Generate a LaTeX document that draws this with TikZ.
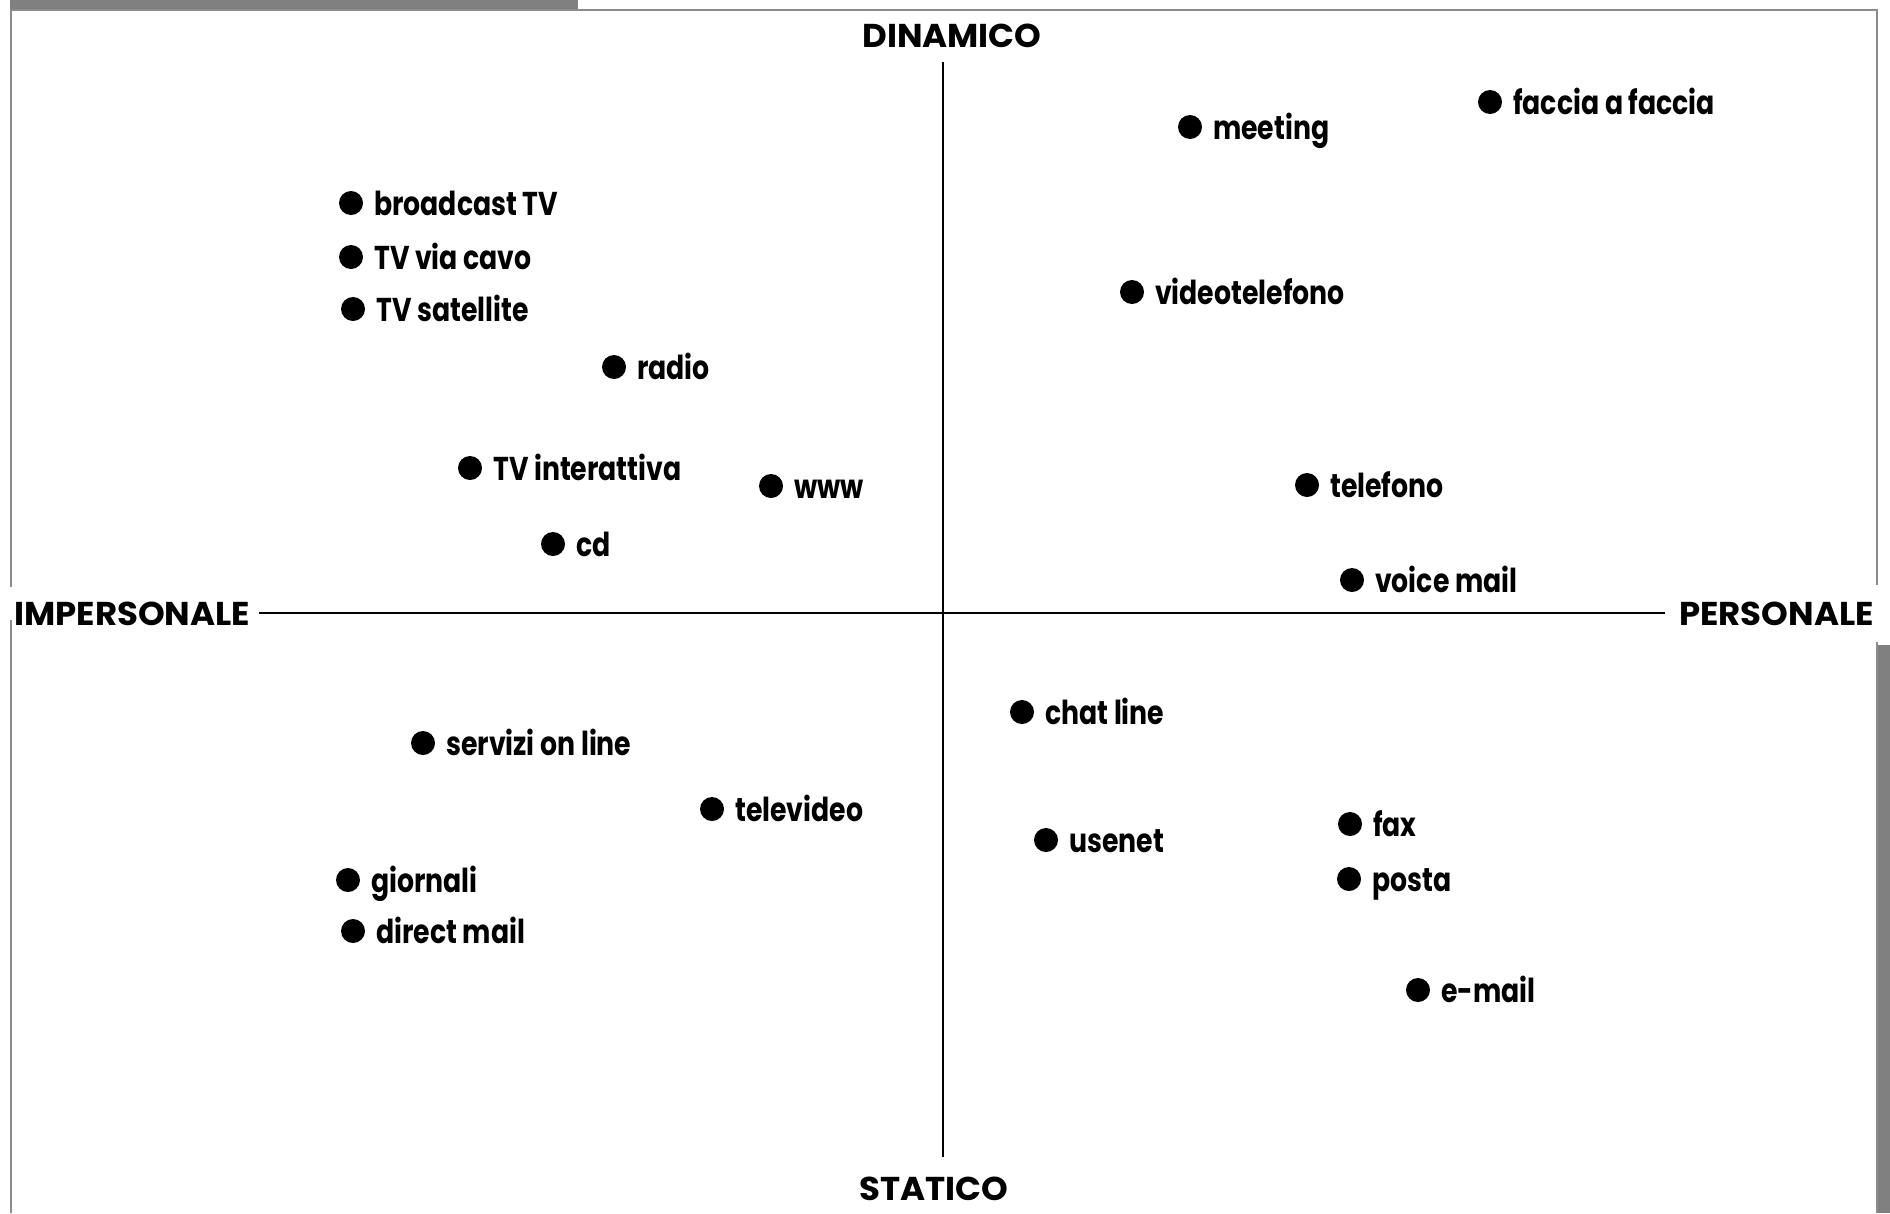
\documentclass[tikz,border=0pt]{standalone}
\usepackage{fontspec}
\setmainfont{Poppins}
\newfontfamily\itemfont{Poppins}[FakeStretch=0.81]
\newfontfamily\axisfont{Poppins}[FakeStretch=1.03]
\definecolor{framegray}{HTML}{8C8C8C}
\definecolor{bargray}{HTML}{808080}
\tikzset{
  dotmark/.style={circle, fill=black, inner sep=0pt, minimum size=24pt},
  itemlbl/.style={anchor=base west, inner sep=0pt, font=\itemfont\bfseries\fontsize{33}{33}\selectfont},
  axislbl/.style={inner sep=0pt, font=\axisfont\bfseries\fontsize{33}{33}\selectfont},
  axisline/.style={line width=2.2pt, black},
  frameline/.style={line width=2pt, framegray}
}
\newcommand{\plotitem}[4]{%
  \node[dotmark] (d#1) at (#2,#3) {};
  \node[itemlbl] (t#1) at ([xshift=23pt,yshift=-12pt]d#1.center) {#4};
}
\begin{document}
\begin{tikzpicture}[x=1pt,y=-1pt]
\useasboundingbox (0,0) rectangle (1890,1213);
% frame and bars
\fill[bargray] (10,0) rectangle (578,8.5);
\fill[bargray] (1878,645) rectangle (1890,1213);
\draw[frameline] (11,1213) -- (11,620);
\draw[frameline] (11,587) -- (11,9.5) -- (1877,9.5) -- (1877,585);
\draw[frameline] (1877,642) -- (1877,1213);
% axis labels
\node[axislbl, anchor=base] (dyn) at (952,47) {DINAMICO};
\node[axislbl, anchor=base] (sta) at (934,1200) {STATICO};
\node[axislbl, anchor=base west] (imp) at (14,625) {IMPERSONALE};
\node[axislbl, anchor=base east] (per) at (1874,625) {PERSONALE};
% axes
\coordinate (vtop) at (943,62);
\coordinate (vbot) at (943,1157);
\coordinate (hleft) at (259,613);
\coordinate (hright) at (1665,613);
\draw[axisline] (vtop) -- (vbot);
\draw[axisline] (hleft) -- (hright);
% items
\plotitem{1}{1490}{102}{faccia a faccia}
\plotitem{2}{1190}{127}{meeting}
\plotitem{3}{351}{203}{broadcast TV}
\plotitem{4}{351}{257}{TV via cavo}
\plotitem{5}{353}{309}{TV satellite}
\plotitem{6}{1132}{292}{videotelefono}
\plotitem{7}{614}{367}{radio}
\plotitem{8}{470}{468}{TV interattiva}
\plotitem{9}{771}{486}{www}
\plotitem{10}{1307}{485}{telefono}
\plotitem{11}{553}{544}{cd}
\plotitem{12}{1352}{580}{voice mail}
\plotitem{13}{1022}{712}{chat line}
\plotitem{14}{423}{743}{servizi on line}
\plotitem{15}{712}{809}{televideo}
\plotitem{16}{1350}{824}{fax}
\plotitem{17}{1046}{840}{usenet}
\plotitem{18}{1349}{879}{posta}
\plotitem{19}{348}{880}{giornali}
\plotitem{20}{353}{931}{direct mail}
\plotitem{21}{1418}{990}{e-mail}
\end{tikzpicture}
\end{document}
